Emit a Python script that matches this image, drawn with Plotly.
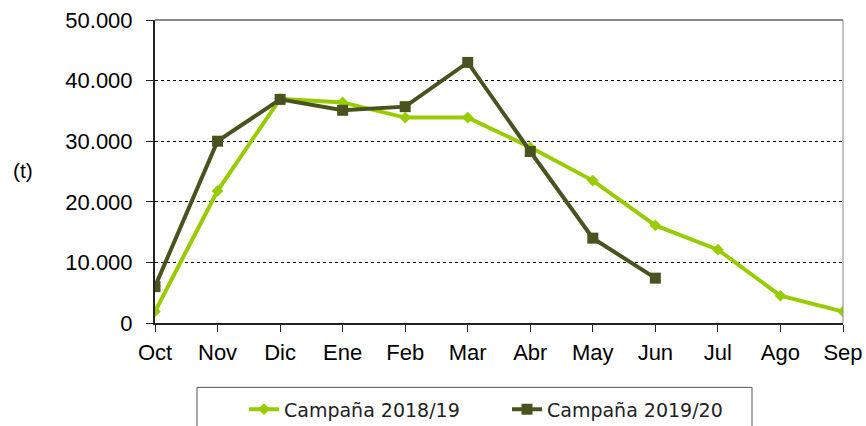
import plotly.graph_objects as go

months = ["Oct", "Nov", "Dic", "Ene", "Feb", "Mar", "Abr", "May", "Jun", "Jul", "Ago", "Sep"]
campana_2018_19 = [1900, 21800, 37000, 36400, 33900, 33900, 29000, 23500, 16100, 12100, 4500, 1900]
campana_2019_20 = [6000, 30000, 36900, 35100, 35700, 43000, 28300, 14000, 7400]
y_ticks = [0, 10000, 20000, 30000, 40000, 50000]
y_tick_labels = ["0", "10.000", "20.000", "30.000", "40.000", "50.000"]

light = "#99CC00"
dark = "#4A5320"

x1 = list(range(len(campana_2018_19)))
x2 = list(range(len(campana_2019_20)))

fig = go.Figure()
fig.add_trace(go.Scatter(
    x=x1, y=campana_2018_19, name="Campaña 2018/19", mode="lines+markers",
    line=dict(color=light, width=4), marker=dict(symbol="diamond", size=9, color=light),
))
fig.add_trace(go.Scatter(
    x=x2, y=campana_2019_20, name="Campaña 2019/20", mode="lines+markers",
    line=dict(color=dark, width=4), marker=dict(symbol="square", size=11, color=dark),
))

L, R, T, B = 155, 843, 20, 322.7
PW, PH = R - L, B - T

def px_x(p):
    return (p - L) / PW

def px_y(p):
    return (B - p) / PH

fig.update_layout(
    width=866, height=426,
    margin=dict(l=L, r=866 - R, t=T, b=426 - B, autoexpand=False),
    paper_bgcolor="white", plot_bgcolor="white",
    font=dict(family="Liberation Sans, Arial, sans-serif", size=22, color="black"),
    xaxis=dict(
        range=[0, 11], tickmode="array", tickvals=list(range(len(months))), ticktext=months,
        showgrid=False, zeroline=False, showline=True, linecolor="#222222", linewidth=2,
        ticks="outside", ticklen=7, tickcolor="#222222", tickwidth=1,
        tickfont=dict(size=22), ticklabelstandoff=2,
    ),
    yaxis=dict(
        range=[0, 50000], tickmode="array", tickvals=y_ticks, ticktext=y_tick_labels,
        showgrid=True, gridcolor="black", gridwidth=1, griddash="dot",
        zeroline=False, showline=True, linecolor="#222222", linewidth=2,
        ticks="outside", ticklen=7, tickcolor="#222222", tickwidth=1,
        tickfont=dict(size=22), ticklabelstandoff=9,
    ),
    showlegend=True,
    legend=dict(
        orientation="h", xref="paper", yref="paper",
        x=px_x(244), xanchor="left",
        y=px_y(390), yanchor="top",
        borderwidth=0,
        font=dict(family="DejaVu Sans, sans-serif", size=19, color="#222222"),
        entrywidth=218, entrywidthmode="pixels",
        bgcolor="rgba(0,0,0,0)",
    ),
)

# frame top and right (gray)
fig.add_shape(type="line", xref="paper", yref="paper", x0=0, x1=1, y0=1, y1=1,
              line=dict(color="#888888", width=2))
fig.add_shape(type="line", xref="paper", yref="paper", x0=1, x1=1, y0=0, y1=1,
              line=dict(color="#888888", width=1))
# legend box
fig.add_shape(type="rect", xref="paper", yref="paper", x0=px_x(197), x1=px_x(752),
              y0=px_y(440), y1=px_y(387), line=dict(color="#555555", width=1),
              layer="below")

fig.add_annotation(text="(t)", xref="paper", yref="paper", x=px_x(23), y=px_y(170),
                   showarrow=False, font=dict(size=21, color="black"), xanchor="center", yanchor="middle")

fig.write_html("out.html", config={"displayModeBar": False},
               post_script="document.body.style.margin='0px';")
